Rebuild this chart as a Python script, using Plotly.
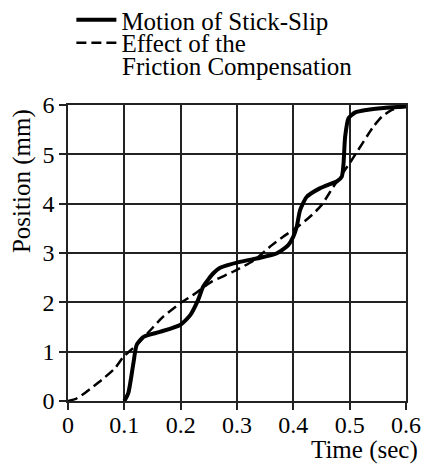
import plotly.graph_objects as go

# Motion of Stick-Slip (solid)
time_solid = [0.100, 0.107, 0.116, 0.122, 0.134, 0.163, 0.199, 0.217, 0.231, 0.240, 0.258,
              0.270, 0.305, 0.340, 0.370, 0.391, 0.400, 0.406, 0.412, 0.424, 0.447, 0.466,
              0.477, 0.486, 0.489, 0.492, 0.498, 0.510, 0.530, 0.560, 0.600]
pos_solid = [0.00, 0.16, 0.76, 1.14, 1.30, 1.40, 1.54, 1.74, 2.05, 2.32, 2.59,
             2.70, 2.82, 2.90, 2.99, 3.16, 3.33, 3.53, 3.87, 4.14, 4.31, 4.40,
             4.45, 4.55, 4.80, 5.36, 5.73, 5.85, 5.90, 5.94, 5.97]

# Effect of the Friction Compensation (dashed)
time_dashed = [0.000, 0.015, 0.033, 0.060, 0.083, 0.098, 0.122, 0.149, 0.169, 0.199, 0.222,
               0.255, 0.293, 0.330, 0.362, 0.382, 0.410, 0.433, 0.450, 0.471, 0.504, 0.542,
               0.557, 0.575, 0.598]
pos_dashed = [0.00, 0.05, 0.19, 0.43, 0.66, 0.89, 1.14, 1.47, 1.71, 1.98, 2.15,
              2.42, 2.62, 2.85, 3.16, 3.33, 3.55, 3.77, 3.97, 4.34, 4.89, 5.56,
              5.76, 5.90, 5.97]

x_ticks = [0, 0.1, 0.2, 0.3, 0.4, 0.5, 0.6]
x_tick_labels = ["0", "0.1", "0.2", "0.3", "0.4", "0.5", "0.6"]
y_ticks = [0, 1, 2, 3, 4, 5, 6]
y_tick_labels = ["0", "1", "2", "3", "4", "5", "6"]

FONT = "Liberation Serif, Times New Roman, serif"
FS_TICK = 24
FS_TEXT = 25

fig = go.Figure()
fig.add_trace(go.Scatter(x=time_solid, y=pos_solid, mode="lines",
                         name="Motion of Stick-Slip", legend="legend",
                         line=dict(color="black", width=4, shape="spline", smoothing=0.6)))
fig.add_trace(go.Scatter(x=time_dashed, y=pos_dashed, mode="lines",
                         name="Effect of the", legend="legend2",
                         line=dict(color="black", width=2.5, dash="10px,5px", shape="spline", smoothing=0.6)))

axis_common = dict(showgrid=True, gridcolor="#222", gridwidth=1.5,
                   showline=True, linecolor="#222", linewidth=1.5, mirror=True,
                   ticks="outside", ticklen=7, tickwidth=1.5, tickcolor="#222",
                   zeroline=False, tickfont=dict(family=FONT, size=FS_TICK, color="black"))

fig.update_xaxes(range=[0, 0.6], tickvals=x_ticks, ticktext=x_tick_labels,
                 ticklabelstandoff=-6, **axis_common)
fig.update_yaxes(range=[0, 6], tickvals=y_ticks, ticktext=y_tick_labels,
                 domain=[0, 296 / 401], **axis_common)

fig.add_annotation(text="Time (sec)", xref="paper", yref="paper", x=1.041, y=-0.1222,
                   xanchor="right", yanchor="middle", showarrow=False,
                   font=dict(family=FONT, size=FS_TEXT, color="black"))
fig.add_annotation(text="Position (mm)", xref="paper", yref="paper", x=-0.136, y=0.5486,
                   xanchor="center", yanchor="middle", textangle=-90, showarrow=False,
                   font=dict(family=FONT, size=FS_TEXT, color="black"))
fig.add_annotation(text="Friction Compensation", xref="paper", yref="paper", x=0.155, y=0.8354,
                   xanchor="left", yanchor="middle", showarrow=False,
                   font=dict(family=FONT, size=FS_TEXT, color="black"))

legend_common = dict(xanchor="left", yanchor="middle",
                     font=dict(family=FONT, size=FS_TEXT, color="black"),
                     bgcolor="rgba(0,0,0,0)", itemwidth=40, borderwidth=0)

fig.update_layout(
    width=425, height=466,
    margin=dict(l=68, r=19, t=0, b=65, autoexpand=False),
    font=dict(family=FONT, size=FS_TICK, color="black"),
    paper_bgcolor="white", plot_bgcolor="white",
    showlegend=True,
    legend=dict(x=0.01, y=0.9501, **legend_common),
    legend2=dict(x=0.01, y=0.8928, **legend_common),
)

fig.write_html("out.html", config={"displayModeBar": False},
               post_script="document.body.style.margin='0';document.body.style.overflow='hidden';")
